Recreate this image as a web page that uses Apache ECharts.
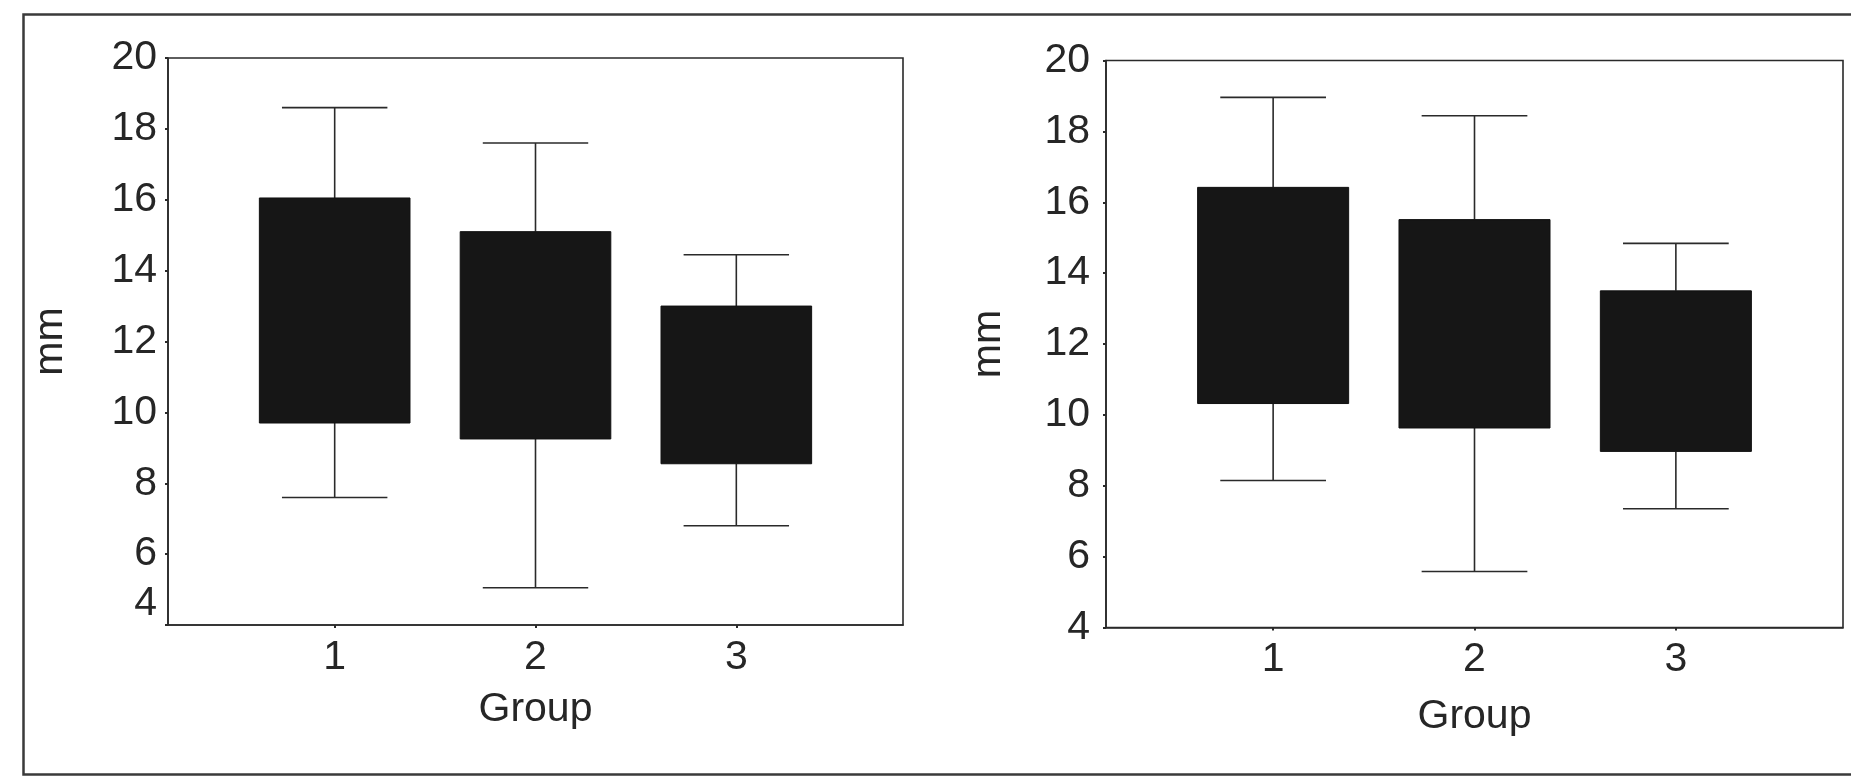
<!DOCTYPE html>
<html>
<head>
<meta charset="utf-8">
<script src="https://cdn.jsdelivr.net/npm/echarts@6/dist/echarts.min.js"></script>
<style>
html,body{margin:0;padding:0;background:#fff;}
#chart{width:1851px;height:776px;}
</style>
</head>
<body>
<div id="chart"></div>
<script>
// ---- data ----
const groups = [1, 2, 3];
const yTicks = [4, 6, 8, 10, 12, 14, 16, 18, 20];

// left panel
const leftLow  = [7.6, 5.05, 6.8];
const leftQ1   = [9.7, 9.25, 8.55];
const leftQ3   = [16.05, 15.1, 13.0];
const leftHigh = [18.6, 17.6, 14.45];

// right panel
const rightLow  = [8.15, 5.58, 7.35];
const rightQ1   = [10.32, 9.63, 8.97];
const rightQ3   = [16.42, 15.51, 13.5];
const rightHigh = [18.96, 18.44, 14.84];

const xTitle = 'Group';
const yTitle = 'mm';

// ---- build ----
function rows(lo, q1, q3, hi) {
  return groups.map((g, i) => [g, lo[i], q1[i], q3[i], hi[i]]);
}

const FONT = "'Liberation Sans', Arial, Helvetica, sans-serif";
const FS = 41;
const TXT = '#262626';
const LINE = '#2a2a2a';

function renderBox(params, api) {
  const x = api.value(0);
  const lo = api.coord([x, api.value(1)]);
  const q1 = api.coord([x, api.value(2)]);
  const q3 = api.coord([x, api.value(3)]);
  const hi = api.coord([x, api.value(4)]);
  const boxW = api.size([0.75, 0])[0];
  const capW = api.size([0.525, 0])[0];
  const cx = lo[0];
  const ls = {stroke: LINE, lineWidth: 1.6};
  return {
    type: 'group',
    children: [
      {type: 'line', shape: {x1: cx, y1: hi[1], x2: cx, y2: q3[1]}, style: ls},
      {type: 'line', shape: {x1: cx, y1: q1[1], x2: cx, y2: lo[1]}, style: ls},
      {type: 'line', shape: {x1: cx - capW / 2, y1: hi[1], x2: cx + capW / 2, y2: hi[1]}, style: ls},
      {type: 'line', shape: {x1: cx - capW / 2, y1: lo[1], x2: cx + capW / 2, y2: lo[1]}, style: ls},
      {type: 'rect', shape: {x: cx - boxW / 2, y: q3[1], width: boxW, height: q1[1] - q3[1]},
        style: {fill: '#161616', stroke: '#111', lineWidth: 1}}
    ]
  };
}

function xAxisDef(idx, nameGap) {
  return {
    gridIndex: idx, type: 'value', min: 0.17, max: 3.83,
    name: xTitle, nameLocation: 'middle', nameGap: nameGap,
    nameTextStyle: {fontFamily: FONT, fontSize: FS, color: TXT},
    axisLine: {show: true, lineStyle: {color: LINE, width: 1.6}},
    axisTick: {show: true, length: 3, lineStyle: {color: LINE, width: 2}, customValues: groups},
    axisLabel: {show: true, margin: 12, fontFamily: FONT, fontSize: FS, color: TXT, customValues: groups},
    splitLine: {show: false}
  };
}

function yAxisDef(idx, margin, shiftFour) {
  const lab = {
    show: true, margin: margin, fontFamily: FONT, fontSize: FS, color: TXT,
    customValues: yTicks
  };
  if (shiftFour) {
    lab.formatter = (v) => (v === 4 ? '{up|4}' : String(v));
    lab.rich = {up: {fontFamily: FONT, fontSize: FS, color: TXT, padding: [0, 0, 42, 0]}};
  }
  return {
    gridIndex: idx, type: 'value', min: 4, max: 20, interval: 2,
    name: yTitle, nameLocation: 'middle', nameGap: 97, nameRotate: 90,
    nameTextStyle: {fontFamily: FONT, fontSize: FS, color: TXT},
    axisLine: {show: true, lineStyle: {color: LINE, width: 1.6}},
    axisTick: {show: true, length: 3, lineStyle: {color: LINE, width: 2}},
    axisLabel: lab,
    splitLine: {show: false}
  };
}

const chart = echarts.init(document.getElementById('chart'), null, {renderer: 'canvas'});
chart.setOption({
  backgroundColor: '#ffffff',
  animation: false,
  grid: [
    {left: 168, top: 58, width: 735, height: 567, show: true, borderColor: LINE, borderWidth: 1.6, outerBoundsMode: 'none'},
    {left: 1106, top: 60.5, width: 737, height: 567, show: true, borderColor: LINE, borderWidth: 1.6, outerBoundsMode: 'none'}
  ],
  xAxis: [xAxisDef(0, 64), xAxisDef(1, 69)],
  yAxis: [yAxisDef(0, 11, true), yAxisDef(1, 16, false)],
  series: [
    {type: 'custom', xAxisIndex: 0, yAxisIndex: 0, renderItem: renderBox,
      encode: {x: 0, y: [1, 2, 3, 4]}, data: rows(leftLow, leftQ1, leftQ3, leftHigh)},
    {type: 'custom', xAxisIndex: 1, yAxisIndex: 1, renderItem: renderBox,
      encode: {x: 0, y: [1, 2, 3, 4]}, data: rows(rightLow, rightQ1, rightQ3, rightHigh)}
  ],
  graphic: [
    {type: 'rect', left: 21, top: 12, shape: {x: 0, y: 0, width: 1900, height: 760},
      style: {fill: 'none', stroke: '#3a3a3a', lineWidth: 2.5}, silent: true}
  ]
});
</script>
</body>
</html>
